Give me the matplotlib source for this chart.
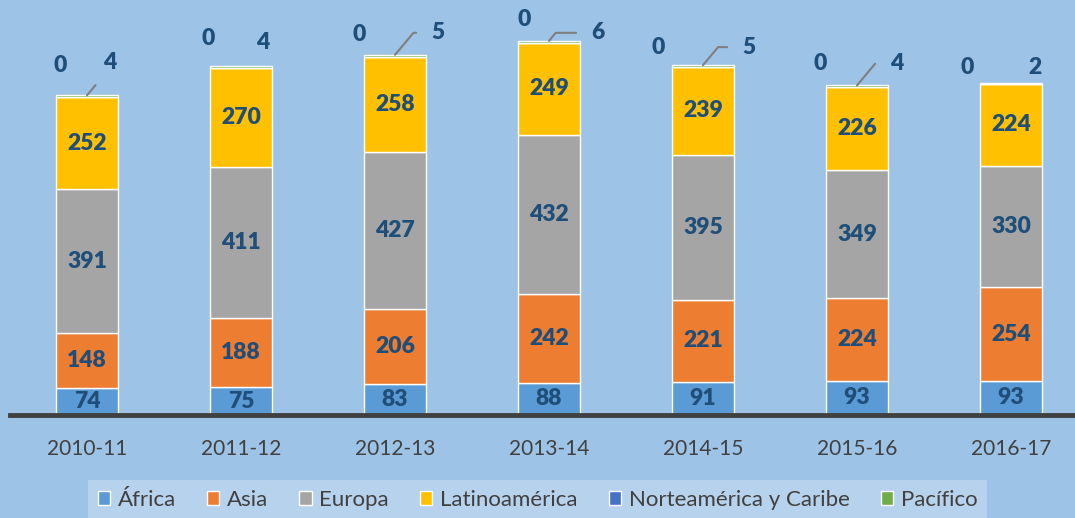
import matplotlib
matplotlib.use("Agg")
import matplotlib.pyplot as plt
import numpy as np

categories = ["2010-11", "2011-12", "2012-13", "2013-14", "2014-15", "2015-16", "2016-17"]
africa = [74, 75, 83, 88, 91, 93, 93]
asia = [148, 188, 206, 242, 221, 224, 254]
europa = [391, 411, 427, 432, 395, 349, 330]
latino = [252, 270, 258, 249, 239, 226, 224]
norte = [0, 0, 0, 0, 0, 0, 0]
pacifico = [4, 4, 5, 6, 5, 4, 2]

series_names = ["África", "Asia", "Europa", "Latinoamérica", "Norteamérica y Caribe", "Pacífico"]
series = [africa, asia, europa, latino, norte, pacifico]
colors = ["#5B9BD5", "#ED7D31", "#A5A5A5", "#FFC000", "#4472C4", "#70AD47"]

# label offsets (pixels) for the small top labels
zero_off = [(-27, 30), (-33, 28), (-36, 20), (-25, 21), (-45, 18), (-37, 22), (-44, 15)]
top_off = [(23, 33), (22, 24), (43, 22), (49, 8), (46, 18), (40, 22), (24, 15)]
draw_leader = [True, False, True, True, True, True, False]

plt.rcParams['font.family'] = ['Lato', 'DejaVu Sans']
bg = "#9DC3E6"
label_color = "#1F4E79"

fig = plt.figure(figsize=(10.75, 5.18), dpi=100, facecolor=bg)
ax = fig.add_axes([10/1075, 103/518, 1065/1075, 415/518])
ax.set_facecolor(bg)

x = np.arange(len(categories))
bottom = np.zeros(len(categories))
for name, vals, col in zip(series_names, series, colors):
    vals = np.array(vals, dtype=float)
    ax.bar(x, vals, 0.4, bottom=bottom, color=col, edgecolor="white", linewidth=1.0,
           label=name, zorder=2)
    if name in ("África", "Asia", "Europa", "Latinoamérica"):
        for xi, b, v in zip(x, bottom, vals):
            ax.text(xi, b + v / 2, f"{int(v)}", ha="center", va="center",
                    fontsize=16.5, fontweight="heavy", color=label_color, zorder=3)
    bottom += vals

totals = bottom
for i in range(len(categories)):
    ax.annotate(f"{norte[i]}", xy=(x[i], totals[i]), xytext=zero_off[i],
                textcoords="offset pixels", ha="center", va="center",
                fontsize=16.5, fontweight="heavy", color=label_color)
    if draw_leader[i]:
        ax.annotate(f"{pacifico[i]}", xy=(x[i], totals[i]), xytext=top_off[i],
                    textcoords="offset pixels", ha="center", va="center",
                    fontsize=16.5, fontweight="heavy", color=label_color,
                    arrowprops=dict(arrowstyle="-", color="#7F7F7F", lw=1.5,
                                    shrinkA=9, shrinkB=0, relpos=(0, 0.5),
                                    connectionstyle="angle,angleA=0,angleB=50,rad=0"))
    else:
        ax.annotate(f"{pacifico[i]}", xy=(x[i], totals[i]), xytext=top_off[i],
                    textcoords="offset pixels", ha="center", va="center",
                    fontsize=16.5, fontweight="heavy", color=label_color)

ax.set_xlim(-0.5, -0.5 + 1065 / 154)
ax.set_ylim(0, 1128)
ax.set_yticks([])
ax.set_xticks(x)
ax.set_xticklabels(categories, fontsize=15, color="#404040")
ax.tick_params(axis="x", length=0, pad=17)
for s in ["top", "right", "left"]:
    ax.spines[s].set_visible(False)
ax.spines["bottom"].set_color("#404040")
ax.spines["bottom"].set_linewidth(3.5)

leg = fig.legend(loc="lower center", bbox_to_anchor=(0.5, -0.025), ncol=6,
                 frameon=True, fontsize=16, handlelength=0.55, handleheight=0.55,
                 columnspacing=1.4, handletextpad=0.35, borderpad=0.45,
                 labelcolor="#404040")
leg.get_frame().set_facecolor("#BDD7EE")
leg.get_frame().set_edgecolor("none")
leg.get_frame().set_boxstyle("square", pad=0)

fig.savefig("out.png", dpi=100, facecolor=bg)
